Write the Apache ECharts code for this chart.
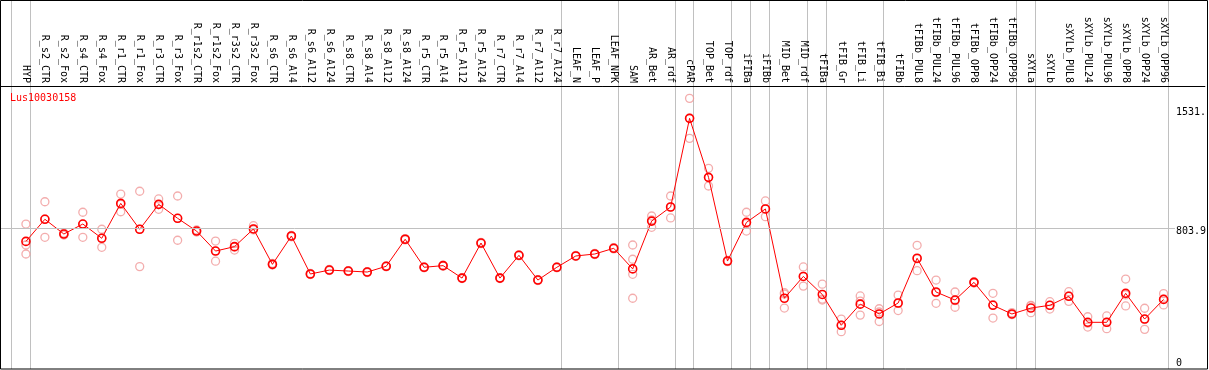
<!DOCTYPE html>
<html>
<head>
<meta charset="utf-8">
<script src="https://cdn.jsdelivr.net/npm/echarts@6/dist/echarts.min.js"></script>
<style>
html,body{margin:0;padding:0;background:#fff;}
#chart{width:1209px;height:370px;}
</style>
</head>
<body>
<div id="chart"></div>
<script>
const categories = ["HYP","R_s2_CTR","R_s2_Fox","R_s4_CTR","R_s4_Fox","R_r1_CTR","R_r1_Fox","R_r3_CTR","R_r3_Fox","R_r1s2_CTR","R_r1s2_Fox","R_r3s2_CTR","R_r3s2_Fox","R_s6_CTR","R_s6_Al4","R_s6_Al12","R_s6_Al24","R_s8_CTR","R_s8_Al4","R_s8_Al12","R_s8_Al24","R_r5_CTR","R_r5_Al4","R_r5_Al12","R_r5_Al24","R_r7_CTR","R_r7_Al4","R_r7_Al12","R_r7_Al24","LEAF_N","LEAF_P","LEAF_NPK","SAM","AR_Bet","AR_rdf","cPAR","TOP_Bet","TOP_rdf","iFIBa","iFIBb","MID_Bet","MID_rdf","tFIBa","tFIB_Gr","tFIB_Li","tFIB_Bi","tFIBb","tFIBb_PUL8","tFIBb_PUL24","tFIBb_PUL96","tFIBb_OPP8","tFIBb_OPP24","tFIBb_OPP96","sXYLa","sXYLb","sXYLb_PUL8","sXYLb_PUL24","sXYLb_PUL96","sXYLb_OPP8","sXYLb_OPP24","sXYLb_OPP96"];

const meanValues = [724,859,769,830,743,956,798,950,865,787,665,692,800,584,757,525,549,543,537,572,737,566,576,500,714,500,639,488,566,635,647,682,556,848,934,1475,1115,604,840,922,377,510,400,212,341,281,348,621,415,366,474,334,281,317,334,389,230,230,407,250,370];

const replicates = [
 [830,702,647],[966,749,861],[775,763,769],[902,749,830],[798,688,745],
 [1013,905,950],[1030,570,798],[983,920,949],[1001,731,864],[794,781,787],
 [726,603,665],[712,671,689],[820,794,800],[590,580,584],[760,752,757],
 [528,522,525],[553,546,549],[546,540,543],[540,534,537],[575,569,572],
 [741,733,737],[569,563,566],[579,573,576],[503,497,500],[718,710,714],
 [503,497,500],[642,636,639],[491,485,488],[569,563,566],[638,632,635],
 [650,644,647],[686,678,682],[702,615,523,377],[879,810,855],[1001,867,934],
 [1597,1353,1477],[1170,1062,1114],[608,600,604],[902,787,833],[971,875,922],
 [411,403,317],[568,451,510],[463,366,372],[250,173,212],[391,274,360],
 [313,235,293],[396,302,346],[700,545,618],[488,346,411],[415,322,362],
 [478,474,470],[407,256,338],[289,277,279],[334,289,330],[356,311,334],
 [417,358,391],[264,201,224],[269,191,230],[494,330,397],[316,187,248],
 [405,336,371]
];

const tickValues = [0, 803.9, 1531];
const tickLabels = ["0", "803.9", "1531."];
const groupEnds = [-1,0,28,31,34,35,37,38,39,41,42,45,52,53,60];
const geneName = "Lus10030158";

// layout helpers (pixel geometry of the panel)
const PX_PER_CAT = 19.01, FIRST_X = 26, LEFT = 1, RIGHT_EDGE = 1208;
const xMin = (LEFT - FIRST_X) / PX_PER_CAT;
const xMax = (RIGHT_EDGE - FIRST_X) / PX_PER_CAT;
const sepOffset = 0.22;
const sepValues = groupEnds.map(i => i + sepOffset);
const hLineEnd = (1178 - FIRST_X) / PX_PER_CAT;

const mono = "DejaVu Sans Mono";
const chart = echarts.init(document.getElementById('chart'), null, {renderer: 'canvas'});

const repData = [];
replicates.forEach((arr, i) => arr.forEach(v => repData.push([i, v])));
const meanData = meanValues.map((v, i) => [i, v]);

chart.setOption({
  animation: false,
  backgroundColor: '#ffffff',
  title: {
    text: geneName, left: 5, top: 88,
    textStyle: {color: '#ff0000', fontFamily: mono, fontSize: 10, fontWeight: 'normal'}
  },
  grid: {left: LEFT, right: 1209 - RIGHT_EDGE, top: 86, bottom: 1, show: false},
  xAxis: {
    type: 'value', position: 'top', min: xMin, max: xMax,
    axisLine: {show: true, onZero: false, lineStyle: {color: '#000', width: 1}},
    axisTick: {show: true, customValues: sepValues, length: 86, inside: false,
               lineStyle: {color: '#c0c0c0', width: 1}},
    axisLabel: {
      customValues: categories.map((c, i) => i),
      formatter: v => categories[Math.round(v)] || '',
      rotate: 90, margin: 3, fontFamily: mono, fontSize: 10, color: '#000',
      showMinLabel: true, showMaxLabel: true, hideOverlap: false
    },
    splitLine: {show: true, lineStyle: {color: '#c0c0c0', width: 1}}
  },
  yAxis: {
    type: 'value', position: 'right', min: -54.9, max: 1672.5,
    axisLine: {show: false}, axisTick: {show: false}, splitLine: {show: false},
    axisLabel: {
      customValues: tickValues, inside: true, margin: 29, align: 'left', verticalAlign: 'top',
      formatter: v => { const k = tickValues.indexOf(v); return k >= 0 ? tickLabels[k] : ''; },
      fontFamily: mono, fontSize: 10, color: '#000', padding: [-2, 0, 0, 0]
    }
  },
  graphic: [{
    type: 'rect', silent: true, z: 100,
    shape: {x: 0.5, y: 0.5, width: 1207, height: 368.5},
    style: {fill: 'none', stroke: '#000', lineWidth: 1}
  }],
  series: [
    {
      type: 'scatter', data: repData, z: 2,
      symbol: 'circle', symbolSize: 8,
      itemStyle: {color: 'transparent', borderColor: '#f09898', borderWidth: 1.3},
      markLine: {
        silent: true, symbol: ['none', 'none'], label: {show: false},
        lineStyle: {color: '#c0c0c0', width: 1, type: 'solid'},
        data: [[{coord: [xMin, tickValues[1]]}, {coord: [hLineEnd, tickValues[1]]}]]
      }
    },
    {
      type: 'line', data: meanData, z: 3,
      symbol: 'circle', symbolSize: 8,
      lineStyle: {color: '#ff0000', width: 1},
      itemStyle: {color: 'transparent', borderColor: '#ff0000', borderWidth: 1.6}
    }
  ]
});
</script>
</body>
</html>
